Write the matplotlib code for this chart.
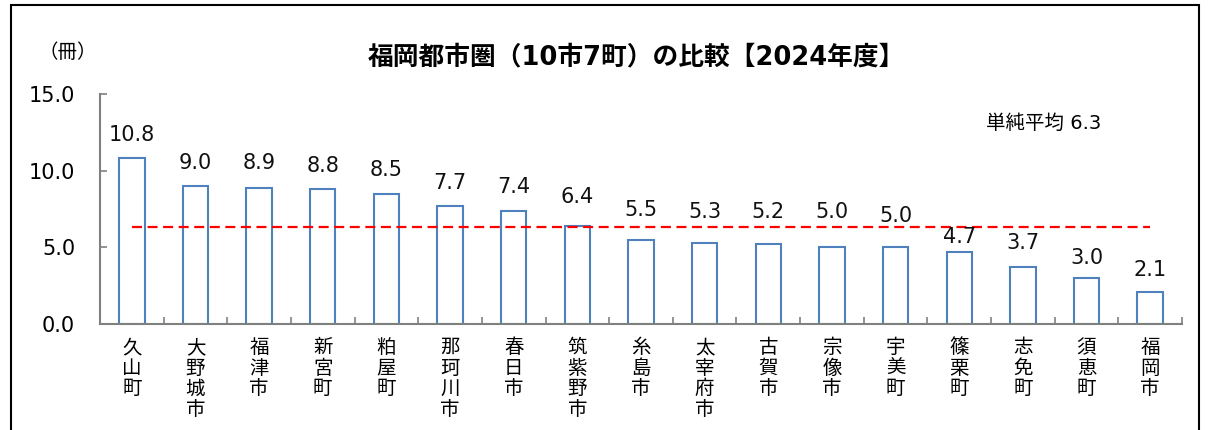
import matplotlib
matplotlib.use("Agg")
import matplotlib.pyplot as plt
from matplotlib.patches import Rectangle

plt.rcParams['font.family'] = ['DejaVu Sans', 'Noto Sans CJK JP']
CJK = ['Noto Sans CJK JP', 'DejaVu Sans']
MIX = ['DejaVu Sans', 'Noto Sans CJK JP']

categories = ["久山町", "大野城市", "福津市", "新宮町", "粕屋町", "那珂川市", "春日市", "筑紫野市",
              "糸島市", "太宰府市", "古賀市", "宗像市", "宇美町", "篠栗町", "志免町", "須恵町", "福岡市"]
values = [10.8, 9.0, 8.9, 8.8, 8.5, 7.7, 7.4, 6.4, 5.5, 5.3, 5.2, 5.0, 5.0, 4.7, 3.7, 3.0, 2.1]
average = 6.3
title = "福岡都市圏（10市7町）の比較【2024年度】"
unit_label = "（冊）"
avg_label = "単純平均"
yticks = [0.0, 5.0, 10.0, 15.0]

# layout: vertical centre of each value label (data units), as placed in the original
label_y = [12.32, 10.50, 10.50, 10.30, 10.04, 9.19, 8.93, 8.28,
           7.43, 7.30, 7.30, 7.30, 7.04, 5.67, 5.28, 4.30, 3.52]

fig = plt.figure(figsize=(12.08, 4.30), dpi=100)
ax = fig.add_axes([100/1208, 1-324/430, 1082/1208, 230/430])

x = list(range(len(categories)))
ax.bar(x, values, width=0.4, color='white', edgecolor='#4F81BD', linewidth=1.5, zorder=2)
ax.plot([x[0], x[-1]], [average, average], color='#FF0000', linestyle=(0, (4.5, 2.5)),
        linewidth=1.6, zorder=3)

for xi, v, ly in zip(x, values, label_y):
    ax.text(xi, ly, f"{v:.1f}", ha='center', va='center', fontsize=15, color='#111111',
            family=MIX, zorder=4)

ax.set_xlim(-0.5, len(categories) - 0.5)
ax.set_ylim(0, 15)
ax.set_yticks(yticks)
ax.set_yticklabels([f"{t:.1f}" for t in yticks], fontsize=15, family=MIX)
ax.set_xticks([i + 0.5 for i in x[:-1]] + [len(categories) - 0.5])
ax.set_xticklabels([])
ax.tick_params(axis='x', direction='in', length=5, color='#808080', width=1.2)
ax.tick_params(axis='y', direction='in', length=5, color='#808080', width=1.2, pad=18)

for xi, c in zip(x, categories):
    ax.text(xi, -0.85, "\n".join(c), ha='center', va='top', fontsize=14, linespacing=0.98,
            family=CJK)

for s in ['top', 'right']:
    ax.spines[s].set_visible(False)
for s in ['left', 'bottom']:
    ax.spines[s].set_color('#808080')
    ax.spines[s].set_linewidth(1.5)

fig.text(636/1208, 1-57/430, title, ha='center', va='center', fontsize=18.5, fontweight='bold',
         family=MIX)
fig.text(68/1208, 1-52/430, unit_label, ha='center', va='center', fontsize=14, family=CJK)
fig.text(1044/1208, 1-123/430, f"{avg_label} {average}", ha='center', va='center', fontsize=14,
         family=MIX)

fig.patches.append(Rectangle((11/1208, -0.05), (1199-11)/1208, 1.05 - 5/430,
                             transform=fig.transFigure, fill=False, edgecolor='black', linewidth=1.5))

fig.savefig("out.png", dpi=100)
